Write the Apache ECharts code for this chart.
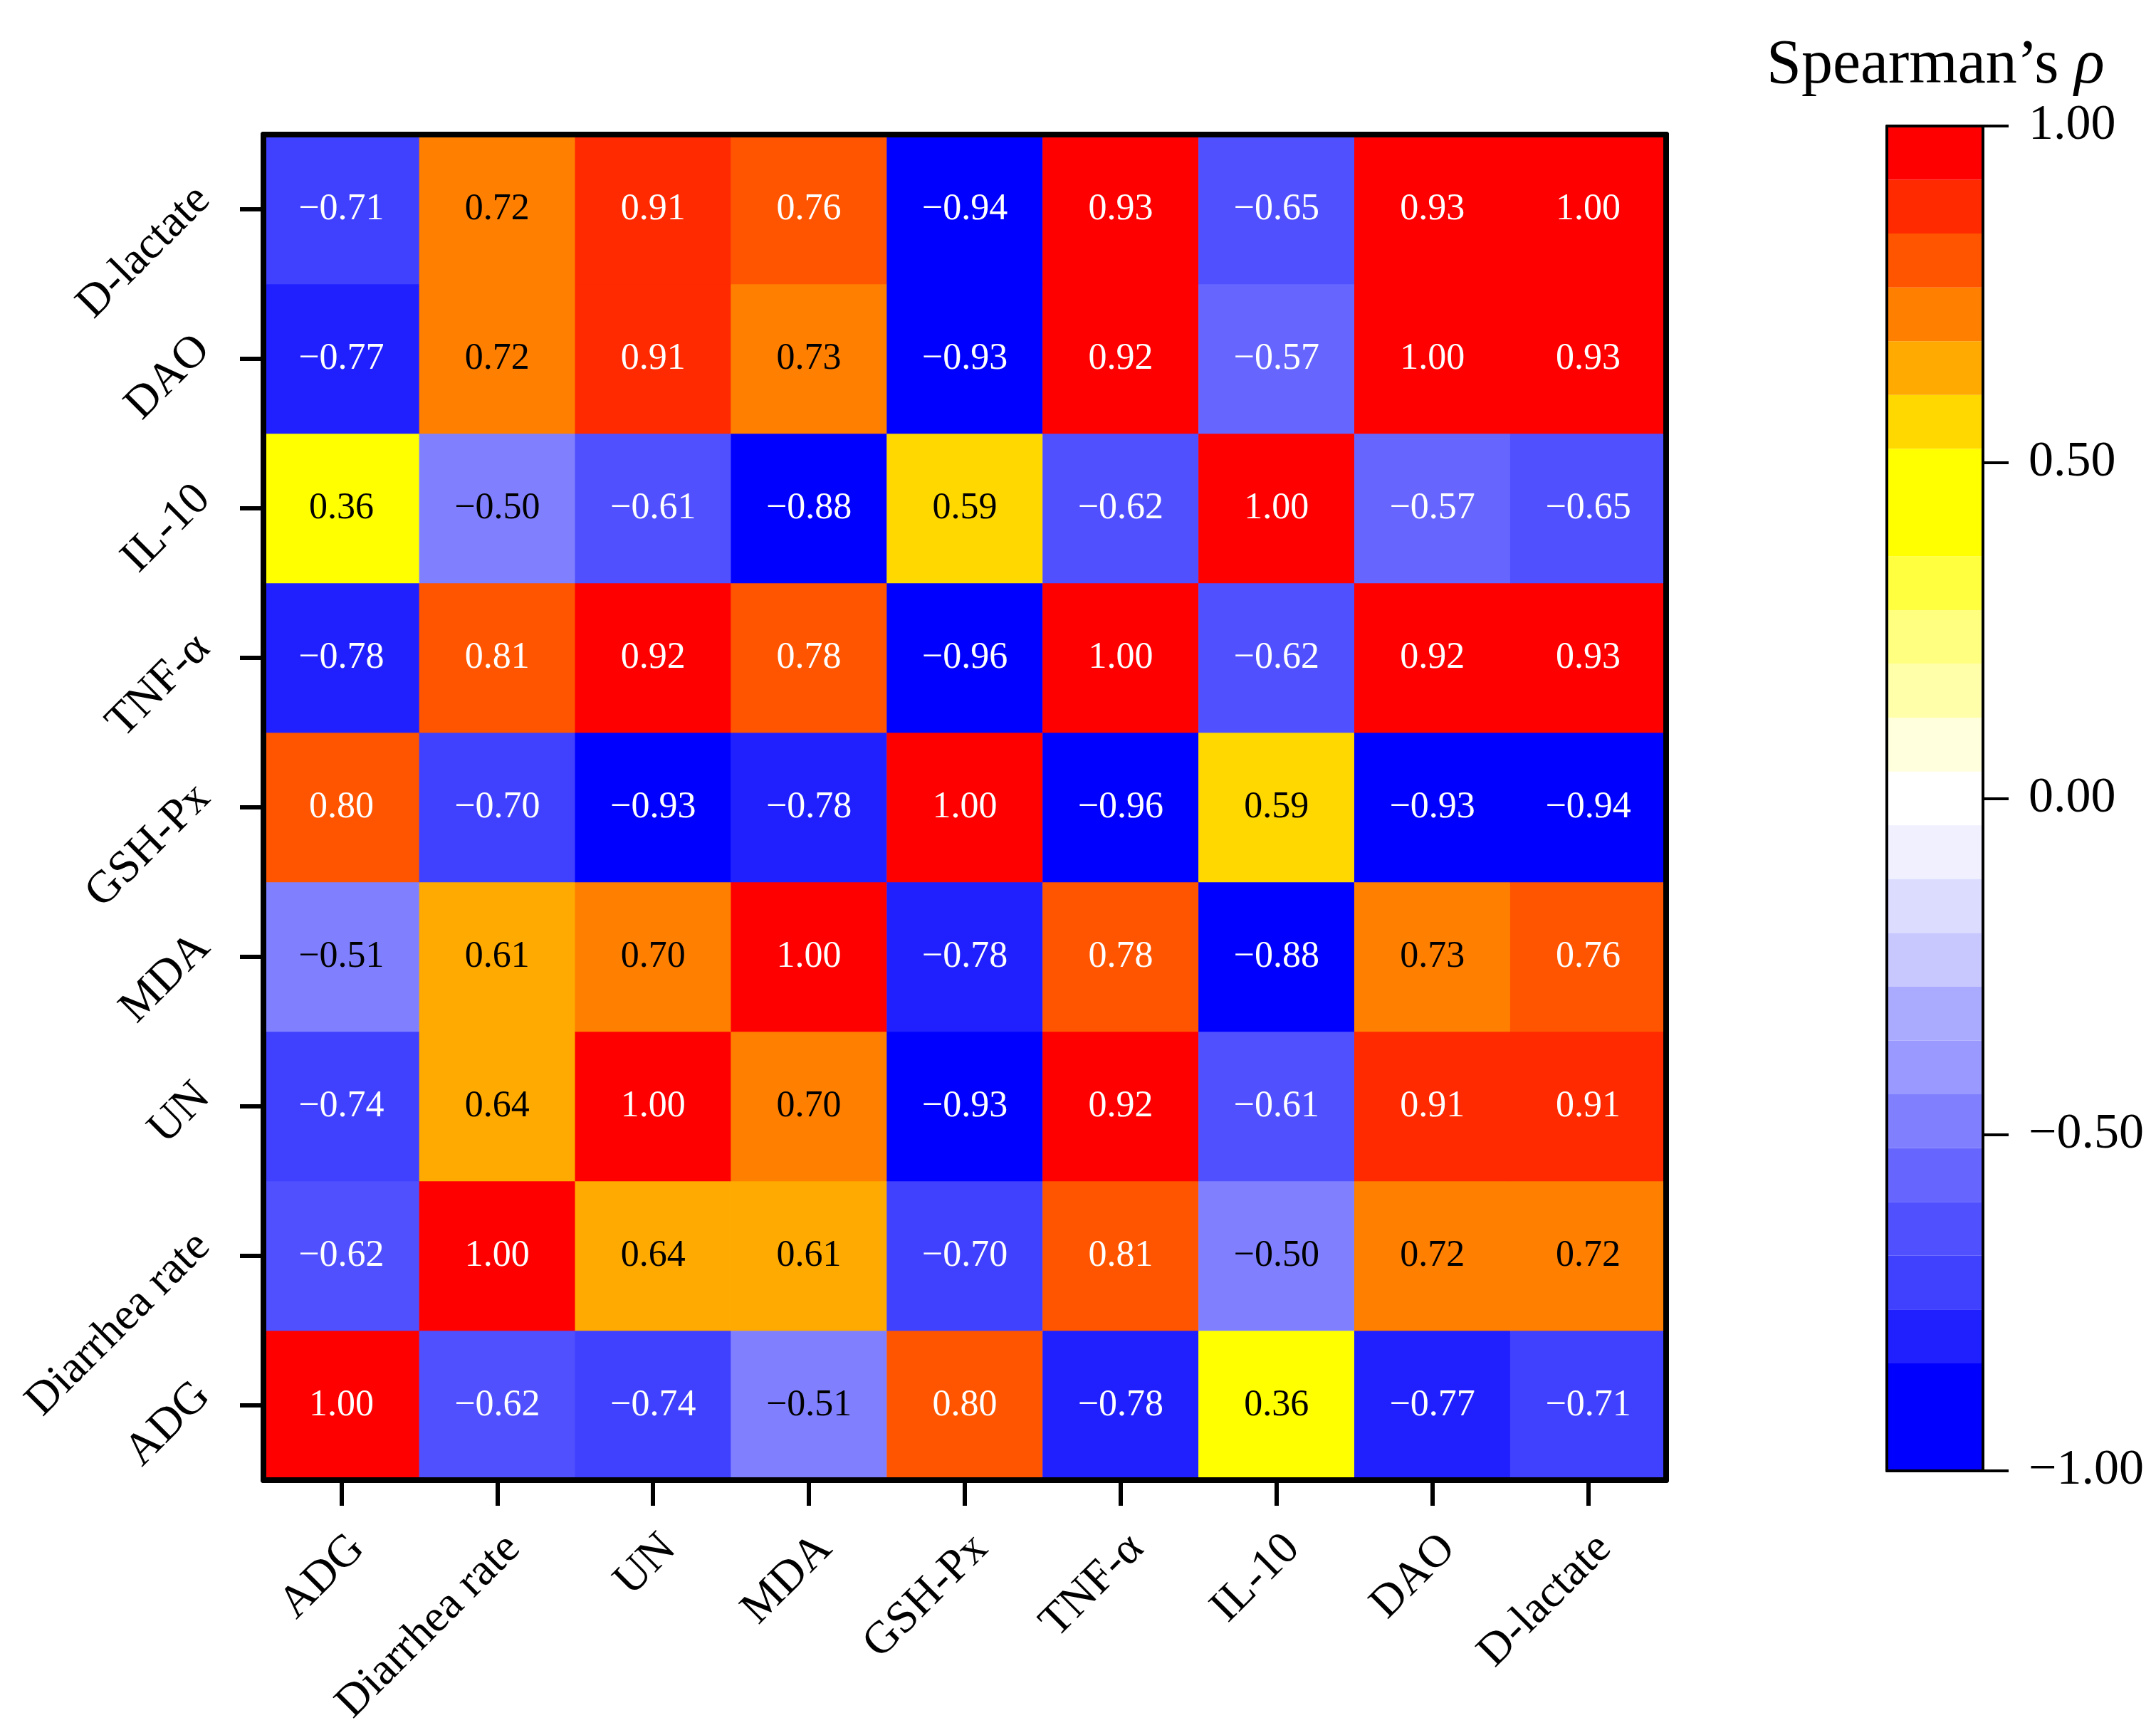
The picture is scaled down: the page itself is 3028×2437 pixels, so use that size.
<!DOCTYPE html>
<html>
<head>
<meta charset="utf-8">
<script src="https://cdn.jsdelivr.net/npm/echarts@6/dist/echarts.min.js"></script>
<style>
  html, body { margin: 0; padding: 0; background: #fff; }
  #heat { width: 3028px; height: 2437px; }
</style>
</head>
<body>
<div id="heat"></div>
<script>
// variables, x left->right and y bottom->top
var categories = ['ADG', 'Diarrhea rate', 'UN', 'MDA', 'GSH-Px', 'TNF-α', 'IL-10', 'DAO', 'D-lactate'];

// Spearman's rho, one row per variable (same order as categories)
var rhoADG      = [1.00, -0.62, -0.74, -0.51, 0.80, -0.78, 0.36, -0.77, -0.71];
var rhoDiarrhea = [-0.62, 1.00, 0.64, 0.61, -0.70, 0.81, -0.50, 0.72, 0.72];
var rhoUN       = [-0.74, 0.64, 1.00, 0.70, -0.93, 0.92, -0.61, 0.91, 0.91];
var rhoMDA      = [-0.51, 0.61, 0.70, 1.00, -0.78, 0.78, -0.88, 0.73, 0.76];
var rhoGSH      = [0.80, -0.70, -0.93, -0.78, 1.00, -0.96, 0.59, -0.93, -0.94];
var rhoTNF      = [-0.78, 0.81, 0.92, 0.78, -0.96, 1.00, -0.62, 0.92, 0.93];
var rhoIL10     = [0.36, -0.50, -0.61, -0.88, 0.59, -0.62, 1.00, -0.57, -0.65];
var rhoDAO      = [-0.77, 0.72, 0.91, 0.73, -0.93, 0.92, -0.57, 1.00, 0.93];
var rhoDlac     = [-0.71, 0.72, 0.91, 0.76, -0.94, 0.93, -0.65, 0.93, 1.00];
var rhoRows = [rhoADG, rhoDiarrhea, rhoUN, rhoMDA, rhoGSH, rhoTNF, rhoIL10, rhoDAO, rhoDlac];

// colour scale: band edges and colorbar ticks
var bandEdges = [-1, -0.84, -0.76, -0.68, -0.60, -0.52, -0.44, -0.36, -0.28, -0.20, -0.12, -0.04,
                 0.04, 0.12, 0.20, 0.28, 0.36, 0.52, 0.60, 0.68, 0.76, 0.84, 0.92, 1];
var colorTicks = [-1, -0.5, 0, 0.5, 1];

var bandColors = ['#0000ff', '#2020ff', '#4040ff', '#5050ff', '#6666ff', '#8080ff', '#9999ff',
                  '#aaaaff', '#c8c8ff', '#dcdcff', '#f0f0ff', '#ffffff',
                  '#ffffdd', '#ffffaa', '#ffff80', '#ffff40', '#ffff00', '#ffd800',
                  '#ffaa00', '#ff7f00', '#ff5500', '#ff2a00', '#ff0000'];

var FONT = '"Liberation Serif", "Times New Roman", serif';

function fmt(v) {
    return (v < 0 ? '\u2212' : '') + Math.abs(v).toFixed(2);
}
// white text on the dark cells
function textColor(v) {
    return (v >= 0.76 || v <= -0.52) ? '#fff' : '#000';
}

var heatData = [];
rhoRows.forEach(function (row, i) {
    row.forEach(function (v, j) {
        heatData.push({ value: [j, i, v], label: { color: textColor(v) } });
    });
});

var pieces = [];
for (var k = 0; k < bandColors.length; k++) {
    var p = { gte: bandEdges[k], color: bandColors[k] };
    if (k === bandColors.length - 1) p.lte = bandEdges[k + 1]; else p.lt = bandEdges[k + 1];
    pieces.push(p);
}

// colorbar: stacked bars, positive part upward from 0, negative part downward from 0
var posSeg = [], negSeg = [];
for (var k = 0; k < bandColors.length; k++) {
    var lo = bandEdges[k], hi = bandEdges[k + 1];
    if (lo >= 0) posSeg.push({ v: hi - lo, c: bandColors[k] });
    else if (hi <= 0) negSeg.push({ v: lo - hi, c: bandColors[k] });
    else {
        negSeg.push({ v: lo, c: bandColors[k] });
        posSeg.push({ v: hi, c: bandColors[k] });
    }
}
negSeg.reverse();
var barSeries = posSeg.concat(negSeg).map(function (s) {
    return {
        type: 'bar', xAxisIndex: 2, yAxisIndex: 2, stack: 'cb',
        barWidth: '100%', data: [s.v], silent: true,
        itemStyle: { color: s.c, borderWidth: 0 }
    };
});

var lineOnly = function (extra) {
    var o = {
        axisLine: { show: true, onZero: false, lineStyle: { color: '#000', width: 8 } },
        axisTick: { show: false }, axisLabel: { show: false }, splitLine: { show: false }, z: 10
    };
    for (var key in extra) o[key] = extra[key];
    return o;
};

var myChart = echarts.init(document.getElementById('heat'));
var option = {
    animation: false,
    backgroundColor: '#fff',
    title: {
        text: '{a|Spearman\u2019s }{b|ρ}',
        left: 2476, top: 44,
        textStyle: {
            fontWeight: 'normal',
            rich: {
                a: { fontFamily: FONT, fontSize: 88, fontWeight: 'normal', color: '#000' },
                b: { fontFamily: FONT, fontSize: 88, fontWeight: 'normal', fontStyle: 'italic', color: '#000' }
            }
        }
    },
    grid: [
        { left: 370, top: 189, width: 1970, height: 1890 },
        { left: 2650, top: 177, width: 135, height: 1889 }
    ],
    visualMap: {
        type: 'piecewise', show: false, seriesIndex: 0, dimension: 2, pieces: pieces
    },
    xAxis: [
        {
            gridIndex: 0, type: 'category', data: categories, position: 'bottom', z: 10,
            axisLine: { show: true, onZero: false, lineStyle: { color: '#000', width: 8 } },
            axisTick: { show: true, alignWithLabel: true, length: 36, lineStyle: { color: '#000', width: 6 } },
            axisLabel: {
                rotate: 45, margin: 64, fontSize: 64, fontFamily: FONT, color: '#000',
                align: 'right', verticalAlign: 'top'
            },
            splitLine: { show: false }
        },
        lineOnly({ gridIndex: 0, type: 'category', data: categories, position: 'top' }),
        lineOnly({ gridIndex: 1, type: 'category', data: ['ρ'], position: 'bottom',
                   axisLine: { show: true, onZero: false, lineStyle: { color: '#000', width: 4 } } }),
        lineOnly({ gridIndex: 1, type: 'category', data: ['ρ'], position: 'top',
                   axisLine: { show: true, onZero: false, lineStyle: { color: '#000', width: 4 } } })
    ],
    yAxis: [
        {
            gridIndex: 0, type: 'category', data: categories, position: 'left', z: 10,
            axisLine: { show: true, onZero: false, lineStyle: { color: '#000', width: 8 } },
            axisTick: { show: true, alignWithLabel: true, length: 33, lineStyle: { color: '#000', width: 6 } },
            axisLabel: {
                rotate: 45, margin: 62, fontSize: 64, fontFamily: FONT, color: '#000',
                align: 'right', verticalAlign: 'bottom'
            },
            splitLine: { show: false }
        },
        lineOnly({ gridIndex: 0, type: 'category', data: categories, position: 'right' }),
        {
            gridIndex: 1, type: 'value', min: -1, max: 1, interval: 0.5, position: 'right', z: 10,
            axisLine: { show: true, onZero: false, lineStyle: { color: '#000', width: 4 } },
            axisTick: { show: true, length: 36, lineStyle: { color: '#000', width: 4 } },
            axisLabel: {
                margin: 64, fontSize: 70, fontFamily: FONT, color: '#000',
                formatter: function (v) { return colorTicks.indexOf(v) >= 0 ? fmt(v) : ''; }
            },
            splitLine: { show: false }
        },
        lineOnly({ gridIndex: 1, type: 'value', min: -1, max: 1, position: 'left',
                   axisLine: { show: true, onZero: false, lineStyle: { color: '#000', width: 4 } } })
    ],
    series: [{
        type: 'heatmap',
        xAxisIndex: 0, yAxisIndex: 0,
        data: heatData,
        itemStyle: { borderWidth: 0 },
        label: {
            show: true, fontSize: 52, fontFamily: FONT,
            formatter: function (p) { return fmt(p.value[2]); }
        },
        emphasis: { disabled: true }
    }].concat(barSeries)
};
myChart.setOption(option);
</script>
</body>
</html>
